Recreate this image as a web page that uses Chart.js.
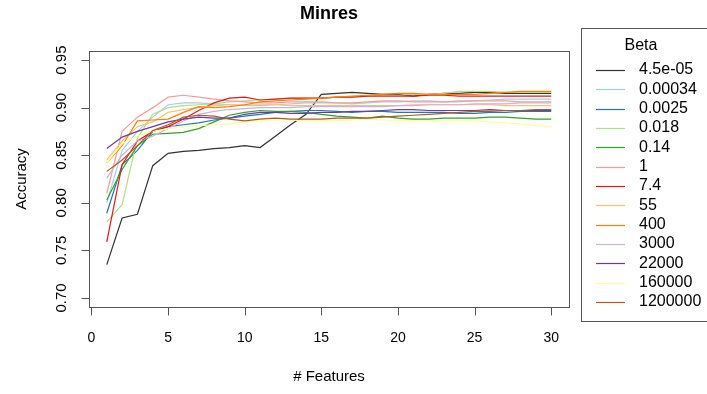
<!DOCTYPE html>
<html>
<head>
<meta charset="utf-8">
<script src="https://cdn.jsdelivr.net/npm/chart.js@4.4.1/dist/chart.umd.min.js"></script>
<style>
  html, body { margin: 0; padding: 0; background: #fff; }
  #wrap { width: 707px; height: 394px; }
</style>
</head>
<body>
<div id="wrap"><canvas id="c" width="707" height="394"></canvas></div>
<script>
const features = [1,2,3,4,5,6,7,8,9,10,11,12,13,14,15,16,17,18,19,20,21,22,23,24,25,26,27,28,29,30];
const betas = ['4.5e-05','0.00034','0.0025','0.018','0.14','1','7.4','55','400','3000','22000','160000','1200000'];
const colors = ['#333333','#A6CEE3','#1F78B4','#B2DF8A','#33A02C','#FB9A99','#E31A1C','#FDBF6F','#FF7F00','#CAB2D6','#6A3D9A','#FFFF99','#B15928'];

const acc_4_5e05 = [0.735,0.784,0.788,0.839,0.852,0.854,0.855,0.857,0.858,0.860,0.858,0.870,0.882,0.893,0.914,0.915,0.916,0.915,0.914,0.914,0.912,0.914,0.915,0.915,0.916,0.916,0.915,0.915,0.915,0.915];
const acc_0_00034 = [0.800,0.855,0.875,0.890,0.903,0.905,0.905,0.904,0.903,0.902,0.902,0.903,0.904,0.905,0.905,0.905,0.904,0.905,0.906,0.906,0.907,0.907,0.906,0.906,0.907,0.908,0.909,0.909,0.909,0.909];
const acc_0_0025 = [0.789,0.840,0.855,0.875,0.880,0.882,0.884,0.887,0.889,0.891,0.893,0.895,0.896,0.897,0.897,0.896,0.895,0.896,0.896,0.895,0.895,0.895,0.895,0.894,0.894,0.895,0.895,0.896,0.896,0.896];
const acc_0_018 = [0.780,0.798,0.868,0.893,0.900,0.902,0.903,0.904,0.906,0.907,0.908,0.909,0.910,0.910,0.910,0.911,0.911,0.912,0.913,0.913,0.914,0.914,0.915,0.917,0.917,0.917,0.916,0.916,0.916,0.916];
const acc_0_14 = [0.803,0.835,0.860,0.872,0.873,0.874,0.878,0.885,0.892,0.895,0.897,0.896,0.896,0.895,0.893,0.891,0.890,0.889,0.891,0.889,0.888,0.888,0.889,0.889,0.889,0.890,0.890,0.889,0.888,0.888];
const acc_1 = [0.810,0.875,0.890,0.900,0.911,0.913,0.911,0.909,0.907,0.906,0.905,0.905,0.906,0.906,0.906,0.905,0.905,0.906,0.907,0.907,0.906,0.906,0.906,0.907,0.907,0.907,0.907,0.906,0.906,0.906];
const acc_7_4 = [0.759,0.840,0.865,0.875,0.880,0.888,0.897,0.905,0.910,0.911,0.908,0.909,0.910,0.910,0.910,0.911,0.911,0.912,0.912,0.912,0.912,0.913,0.913,0.912,0.912,0.912,0.912,0.912,0.912,0.912];
const acc_55 = [0.845,0.865,0.880,0.885,0.895,0.898,0.900,0.902,0.903,0.903,0.903,0.903,0.902,0.902,0.902,0.902,0.902,0.902,0.902,0.902,0.903,0.903,0.903,0.903,0.903,0.903,0.902,0.902,0.902,0.902];
const acc_400 = [0.842,0.860,0.886,0.887,0.888,0.895,0.901,0.900,0.901,0.903,0.906,0.907,0.908,0.909,0.910,0.911,0.912,0.913,0.914,0.915,0.915,0.914,0.914,0.914,0.914,0.915,0.916,0.917,0.917,0.917];
const acc_3000 = [0.826,0.850,0.865,0.870,0.878,0.886,0.893,0.896,0.898,0.899,0.900,0.900,0.900,0.901,0.901,0.901,0.901,0.901,0.901,0.902,0.902,0.903,0.903,0.903,0.904,0.904,0.904,0.905,0.905,0.905];
const acc_22000 = [0.857,0.869,0.875,0.880,0.885,0.888,0.890,0.889,0.889,0.893,0.895,0.895,0.894,0.894,0.895,0.895,0.896,0.896,0.897,0.898,0.898,0.897,0.897,0.897,0.897,0.898,0.897,0.897,0.897,0.897];
const acc_160000 = [0.842,0.862,0.870,0.875,0.878,0.880,0.881,0.882,0.883,0.885,0.886,0.887,0.887,0.886,0.886,0.886,0.887,0.888,0.887,0.886,0.886,0.886,0.886,0.886,0.886,0.885,0.884,0.883,0.881,0.880];
const acc_1200000 = [0.833,0.845,0.860,0.876,0.882,0.890,0.892,0.891,0.888,0.886,0.888,0.889,0.888,0.888,0.888,0.889,0.889,0.889,0.890,0.891,0.892,0.893,0.894,0.895,0.896,0.896,0.897,0.897,0.898,0.898];

const series = [acc_4_5e05, acc_0_00034, acc_0_0025, acc_0_018, acc_0_14, acc_1, acc_7_4, acc_55, acc_400, acc_3000, acc_22000, acc_160000, acc_1200000];

const xTicks = [0, 5, 10, 15, 20, 25, 30];
const yTicks = [0.70, 0.75, 0.80, 0.85, 0.90, 0.95];

const FONT = '"Liberation Sans", Arial, sans-serif';

// R style box, axes, labels and legend
const rFrame = {
  id: 'rFrame',
  afterDraw(chart) {
    const { ctx, chartArea: a, scales } = chart;
    const xs = scales.x, ys = scales.y;
    ctx.save();
    ctx.strokeStyle = '#555';
    ctx.lineWidth = 1;
    ctx.strokeRect(Math.round(a.left) + 0.5, Math.round(a.top) + 0.5, Math.round(a.right - a.left), Math.round(a.bottom - a.top));

    ctx.fillStyle = '#000';
    ctx.font = '14px ' + FONT;

    // x axis
    const bx = Math.round(a.bottom) + 0.5;
    ctx.beginPath();
    ctx.moveTo(xs.getPixelForValue(xTicks[0]), bx);
    ctx.lineTo(xs.getPixelForValue(xTicks[xTicks.length - 1]), bx);
    xTicks.forEach(t => {
      const px = Math.round(xs.getPixelForValue(t)) + 0.5;
      ctx.moveTo(px, bx);
      ctx.lineTo(px, bx + 8);
    });
    ctx.stroke();
    ctx.textAlign = 'center';
    ctx.textBaseline = 'middle';
    xTicks.forEach(t => ctx.fillText(String(t), xs.getPixelForValue(t), 338));

    // y axis
    const lx = Math.round(a.left) + 0.5;
    ctx.beginPath();
    ctx.moveTo(lx, ys.getPixelForValue(yTicks[0]));
    ctx.lineTo(lx, ys.getPixelForValue(yTicks[yTicks.length - 1]));
    yTicks.forEach(t => {
      const py = Math.round(ys.getPixelForValue(t)) + 0.5;
      ctx.moveTo(lx, py);
      ctx.lineTo(lx - 8, py);
    });
    ctx.stroke();
    ctx.font = '15px ' + FONT;
    yTicks.forEach(t => {
      ctx.save();
      ctx.translate(62, ys.getPixelForValue(t));
      ctx.rotate(-Math.PI / 2);
      ctx.fillText(t.toFixed(2), 0, 0);
      ctx.restore();
    });

    // axis titles
    ctx.fillText('# Features', (a.left + a.right) / 2, 377);
    ctx.save();
    ctx.translate(22, (a.top + a.bottom) / 2);
    ctx.rotate(-Math.PI / 2);
    ctx.fillText('Accuracy', 0, 0);
    ctx.restore();

    // title
    ctx.font = 'bold 18px ' + FONT;
    ctx.fillText('Minres', (a.left + a.right) / 2, 14);

    // legend
    const L = { x: 581, y: 28, w: 140, h: 293 };
    ctx.strokeStyle = '#555';
    ctx.strokeRect(L.x + 0.5, L.y + 0.5, L.w, L.h);
    ctx.font = '16px ' + FONT;
    ctx.fillText('Beta', 641, 46);
    ctx.textAlign = 'left';
    chart.data.datasets.forEach((ds, i) => {
      const y = 70 + i * 19.33;
      ctx.strokeStyle = ds.borderColor;
      ctx.lineWidth = 1.2;
      ctx.beginPath();
      ctx.moveTo(596, Math.round(y) + 0.5);
      ctx.lineTo(625, Math.round(y) + 0.5);
      ctx.stroke();
      ctx.fillText(ds.label, 639, y);
    });
    ctx.restore();
  }
};

new Chart(document.getElementById('c'), {
  type: 'line',
  data: {
    datasets: series.map((vals, i) => ({
      label: betas[i],
      data: vals.map((v, j) => ({ x: features[j], y: v })),
      borderColor: colors[i],
      backgroundColor: colors[i],
      borderWidth: 1.2,
      pointRadius: 0,
      tension: 0,
      order: -i,
    })),
  },
  options: {
    responsive: false,
    animation: false,
    layout: { padding: { left: 89, top: 51, right: 138, bottom: 87 } },
    scales: {
      x: { type: 'linear', min: -0.16, max: 31.16, display: false },
      y: { type: 'linear', min: 0.6905, max: 0.9595, display: false },
    },
    plugins: { legend: { display: false }, tooltip: { enabled: false } },
  },
  plugins: [rFrame],
});
</script>
</body>
</html>
